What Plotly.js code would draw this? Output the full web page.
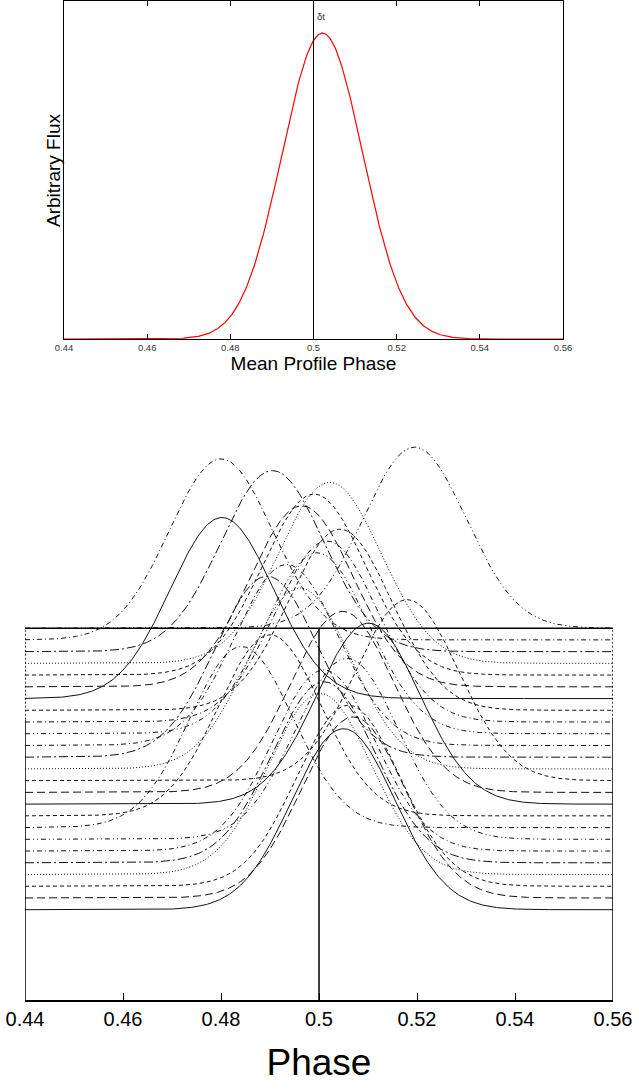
<!DOCTYPE html>
<html><head><meta charset="utf-8">
<script src="https://cdn.plot.ly/plotly-3.0.1.min.js"></script>
<style>html,body{margin:0;padding:0;background:#fff}#chart{width:639px;height:1089px}</style>
</head><body><div id="chart"></div>
<script>
// ---------- data ----------
// Top panel: mean profile (Gaussian model)
const meanCenter = 0.50215;
const meanSigma = 0.0097;
const meanPeak = 1.0;
const deltaTPhase = 0.5;

// Bottom panel: 25 individual profiles, listed from the lowest baseline (0) to the highest (24)
const profileCenters = [0.5050, 0.5070, 0.5060, 0.5002, 0.5010, 0.5010, 0.5057, 0.4842, 0.4900, 0.5101,
                        0.5048, 0.5180, 0.4961, 0.4894, 0.4934, 0.4996, 0.5016, 0.5043, 0.4802, 0.4965,
                        0.4990, 0.5022, 0.4905, 0.4800, 0.5195];
const profileBaselines = [0, 1, 2, 3, 4, 5, 6, 7, 8, 9, 10, 11, 12, 13, 14, 15, 16, 17, 18, 19, 20, 21, 22, 23, 24];
const profileHeight = 15.43;
const profileSigma = 0.0105;
const profileStyles = ['solid', 'longdash', 'shortdash', 'dotted', 'longdashdot', 'dashdot', 'dashdotdot', 'dashdot', 'shortdash'];

const tickVals = [0.44, 0.46, 0.48, 0.5, 0.52, 0.54, 0.56];
const tickText = ['0.44', '0.46', '0.48', '0.5', '0.52', '0.54', '0.56'];

// ---------- build ----------
const dashMap = {
  solid: 'solid',
  longdash: '8px,4px',
  shortdash: '4px,3px',
  dotted: '1px,2px',
  longdashdot: '9px,3px,2px,3px',
  dashdot: '5px,3px,1px,3px',
  dashdotdot: '5px,3px,1px,3px,1px,3px'
};
const phaseGrid = [];
for (let i = 0; i <= 480; i++) phaseGrid.push(0.44 + i * 0.12 / 480);
const gauss = (x, c, s) => Math.exp(-0.5 * ((x - c) / s) ** 2);

const traces = [];
traces.push({
  x: phaseGrid, y: phaseGrid.map(p => meanPeak * gauss(p, meanCenter, meanSigma)),
  xaxis: 'x', yaxis: 'y', mode: 'lines', line: {color: '#ff0000', width: 1.2}, hoverinfo: 'skip'
});
profileCenters.forEach((c, i) => {
  traces.push({
    x: phaseGrid, y: phaseGrid.map(p => profileBaselines[i] + profileHeight * gauss(p, c, profileSigma)),
    xaxis: 'x2', yaxis: 'y2', mode: 'lines',
    line: {color: '#111', width: 1, dash: dashMap[profileStyles[i % profileStyles.length]]},
    hoverinfo: 'skip'
  });
});

const topB = profileBaselines[profileBaselines.length - 1];
const yLow = -7.698;
const W = 639, H = 1089;
const layout = {
  width: W, height: H, margin: {l: 0, r: 0, t: 0, b: 0},
  paper_bgcolor: '#fff', plot_bgcolor: '#fff', showlegend: false,
  font: {family: 'Liberation Sans, Arial, sans-serif', color: '#000'},
  xaxis: {
    domain: [64 / W, 563 / W], range: [0.44, 0.56], anchor: 'y',
    tickvals: tickVals, ticktext: tickText, ticks: 'inside', ticklen: 5, tickcolor: '#000',
    mirror: 'ticks', showline: true, linecolor: '#000', linewidth: 1, showgrid: false, zeroline: false,
    tickfont: {size: 9.5, color: '#333'},
    title: {text: 'Mean Profile Phase', font: {size: 19}, standoff: 4}
  },
  yaxis: {
    domain: [1 - 339 / H, 1 - 1 / H], range: [0, 1.105], anchor: 'x',
    showticklabels: false, ticks: '', showline: true, mirror: true, linecolor: '#000', linewidth: 1,
    showgrid: false, zeroline: false
  },
  xaxis2: {
    domain: [25 / W, 613 / W], range: [0.44, 0.56], anchor: 'y2',
    tickvals: tickVals, ticktext: tickText, ticks: 'inside', ticklen: 7, tickcolor: '#000', tickwidth: 1,
    showline: true, linecolor: '#000', linewidth: 1.5, showgrid: false, zeroline: false,
    tickfont: {size: 20, color: '#000'},
    title: {text: 'Phase', font: {size: 37}, standoff: 20}
  },
  yaxis2: {
    domain: [1 - 1000 / H, 1 - 440 / H], range: [yLow, 40.04], anchor: 'x2', visible: false
  },
  shapes: [
    {type: 'line', xref: 'x', yref: 'y', x0: deltaTPhase, x1: deltaTPhase, y0: 0, y1: 1.105, line: {color: '#000', width: 1}},
    {type: 'line', xref: 'x2', yref: 'y2', x0: 0.44, x1: 0.56, y0: topB, y1: topB, line: {color: '#000', width: 1.5}},
    {type: 'line', xref: 'x2', yref: 'y2', x0: 0.44, x1: 0.44, y0: yLow, y1: 16.2, line: {color: '#000', width: 1.5}},
    {type: 'line', xref: 'x2', yref: 'y2', x0: 0.44, x1: 0.44, y0: 16.2, y1: topB, line: {color: '#000', width: 1.5, dash: '2px,2px'}},
    {type: 'line', xref: 'x2', yref: 'y2', x0: 0.56, x1: 0.56, y0: yLow, y1: 16.2, line: {color: '#000', width: 1.5}},
    {type: 'line', xref: 'x2', yref: 'y2', x0: 0.56, x1: 0.56, y0: 16.2, y1: topB, line: {color: '#000', width: 1.5, dash: '2px,2px'}},
    {type: 'line', xref: 'x2', yref: 'y2', x0: deltaTPhase, x1: deltaTPhase, y0: yLow, y1: topB, line: {color: '#000', width: 1.5}}
  ],
  annotations: [
    {text: 'δt', x: deltaTPhase, y: 1.054, xref: 'x', yref: 'y', xanchor: 'left', yanchor: 'middle',
     xshift: 1, showarrow: false, font: {size: 9.5, color: '#333'}},
    {text: 'Arbitrary Flux', x: 53 / W, y: 1 - 171 / H, xref: 'paper', yref: 'paper', textangle: -90,
     xanchor: 'center', yanchor: 'middle', showarrow: false, font: {size: 19, color: '#000'}}
  ]
};
Plotly.newPlot('chart', traces, layout, {staticPlot: true, displayModeBar: false});
</script></body></html>
